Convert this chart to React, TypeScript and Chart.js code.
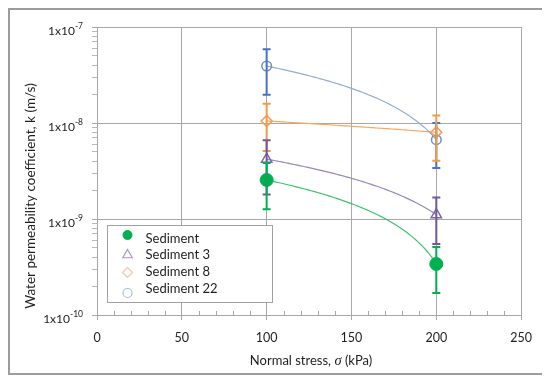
import React, { useEffect, useRef } from 'react';
import { Chart, registerables } from 'chart.js';
import { drawPoint } from 'chart.js/helpers';

Chart.register(...registerables);

// ---- data ----
const stress = [100, 200];
const seriesNames = ['Sediment', 'Sediment 3', 'Sediment 8', 'Sediment 22'];
const sediment = [2.55e-9, 3.4e-10];
const sediment3 = [4.2e-9, 1.11e-9];
const sediment8 = [1.05e-8, 8.0e-9];
const sediment22 = [3.92e-8, 6.7e-9];
const errSediment = [1.29e-9, 1.7e-10];
const errSediment3 = [2.4e-9, 5.6e-10];
const errSediment8 = [5.4e-9, 3.95e-9];
const errSediment22 = [1.95e-8, 3.3e-9];
const xTickValues = [0, 50, 100, 150, 200, 250];
const xTickLabels = ['0', '50', '100', '150', '200', '250'];
const yDecades = [-10, -9, -8, -7];
const yTickBase = '1x10';
const xTitleParts = ['Normal stress, ', 'σ', ' (kPa)'];
const yTitle = 'Water permeability coefficient, k (m/s)';

const FONT = 'Lato, "Open Sans", sans-serif';
const TEXT = '#1e1e1e';
const GRID = '#a8a8a8';
const MINOR = '#b8b8b8';

// legend row offsets (marker / text) relative to legend box top
const LEG_MARK_Y = [9.5, 29.5, 47, 67.5];
const LEG_TEXT_Y = [13.5, 29.5, 46.5, 63.5];

const isDecade = (v?: number) =>
  v != null && v > 0 && Math.abs(Math.log10(v) - Math.round(Math.log10(v))) < 1e-6;

const pts = (vals: number[]) => stress.map((x, i) => ({ x, y: vals[i] }));

const decor = {
  id: 'decor',
  beforeDatasetsDraw(chart: any) {
    const { ctx, chartArea, scales } = chart;
    const xs = scales.x, ys = scales.y;
    ctx.save();
    ctx.strokeStyle = GRID;
    ctx.lineWidth = 1;
    xs.ticks.forEach((t: any) => {
      if (!xTickValues.includes(t.value)) {
        const px = Math.round(xs.getPixelForValue(t.value)) + 0.5;
        ctx.beginPath();
        ctx.moveTo(px, chartArea.bottom);
        ctx.lineTo(px, chartArea.bottom - 4);
        ctx.stroke();
      }
    });
    chart.data.datasets.forEach((ds: any) => {
      const d = ds.data as { x: number; y: number }[];
      const n = d.length;
      const mx = d.reduce((s, p) => s + p.x, 0) / n;
      const my = d.reduce((s, p) => s + p.y, 0) / n;
      let sxy = 0, sxx = 0;
      d.forEach((p) => { sxy += (p.x - mx) * (p.y - my); sxx += (p.x - mx) ** 2; });
      const slope = sxy / sxx;
      const icpt = my - slope * mx;
      const x0 = Math.min(...d.map((p) => p.x));
      const x1 = Math.max(...d.map((p) => p.x));
      ctx.strokeStyle = ds.trendColor;
      ctx.lineWidth = 1.2;
      ctx.beginPath();
      const N = 80;
      for (let i = 0; i <= N; i++) {
        const xv = x0 + ((x1 - x0) * i) / N;
        const yv = icpt + slope * xv;
        const px = xs.getPixelForValue(xv);
        const py = ys.getPixelForValue(yv);
        if (i === 0) ctx.moveTo(px, py); else ctx.lineTo(px, py);
      }
      ctx.stroke();
    });
    ctx.restore();
  },
  afterDatasetsDraw(chart: any) {
    const { ctx, scales } = chart;
    const xs = scales.x, ys = scales.y;
    ctx.save();
    const dss = chart.data.datasets;
    for (let k = dss.length - 1; k >= 0; k--) {
      const ds = dss[k];
      ctx.strokeStyle = ds.errColor;
      ctx.lineWidth = 2;
      ds.data.forEach((p: any, i: number) => {
        const e = ds.errors[i];
        const px = xs.getPixelForValue(p.x);
        const top = ys.getPixelForValue(p.y + e);
        const bot = ys.getPixelForValue(Math.max(p.y - e, 1e-12));
        ctx.beginPath();
        ctx.moveTo(px, top); ctx.lineTo(px, bot);
        ctx.moveTo(px - 4, top); ctx.lineTo(px + 4, top);
        ctx.moveTo(px - 4, bot); ctx.lineTo(px + 4, bot);
        ctx.stroke();
      });
    }
    ctx.restore();
  },
  afterDraw(chart: any) {
    const { ctx, chartArea, scales } = chart;
    const ys = scales.y;
    ctx.save();
    yDecades.forEach((e) => {
      const py = ys.getPixelForValue(Math.pow(10, e));
      const right = chartArea.left - 14;
      const sup = String(e);
      ctx.font = `8.5px ${FONT}`;
      const ws = ctx.measureText(sup).width;
      ctx.font = `12px ${FONT}`;
      const wb = ctx.measureText(yTickBase).width;
      ctx.fillStyle = TEXT;
      ctx.textAlign = 'left';
      ctx.textBaseline = 'alphabetic';
      ctx.fillText(yTickBase, right - ws - wb, py + 7.5);
      ctx.font = `8.5px ${FONT}`;
      ctx.fillText(sup, right - ws, py + 1.5);
    });
    ctx.font = `13.5px ${FONT}`;
    ctx.textAlign = 'center';
    ctx.textBaseline = 'middle';
    ctx.translate(21, 186);
    ctx.rotate(-Math.PI / 2);
    ctx.fillText(yTitle, 0, 0);
    ctx.setTransform(1, 0, 0, 1, 0, 0);
    const fonts = [`13px ${FONT}`, `italic 14.5px "Liberation Serif", serif`, `13px ${FONT}`];
    const widths = xTitleParts.map((s, i) => { ctx.font = fonts[i]; return ctx.measureText(s).width; });
    const total = widths.reduce((a, b) => a + b, 0);
    let cx = (chartArea.left + chartArea.right) / 2 + 2 - total / 2;
    ctx.textAlign = 'left';
    ctx.textBaseline = 'alphabetic';
    xTitleParts.forEach((s, i) => {
      ctx.font = fonts[i];
      ctx.fillText(s, cx, 355);
      cx += widths[i];
    });
    const lx = chartArea.left + 10.5;
    const ly = chartArea.bottom - 89.5;
    const lw = 165, lh = 77;
    ctx.fillStyle = '#ffffff';
    ctx.fillRect(lx, ly, lw, lh);
    ctx.strokeStyle = '#a0a0a0';
    ctx.lineWidth = 1;
    ctx.strokeRect(lx, ly, lw, lh);
    chart.data.datasets.forEach((ds: any, i: number) => {
      const lg = ds.legendStyle;
      ctx.fillStyle = lg.fill;
      ctx.strokeStyle = lg.stroke;
      ctx.lineWidth = lg.width;
      drawPoint(ctx, { pointStyle: ds.pointStyle, radius: lg.radius, borderWidth: lg.width, rotation: 0 } as any, lx + 20, ly + LEG_MARK_Y[i]);
      ctx.fillStyle = TEXT;
      ctx.font = `13px ${FONT}`;
      ctx.textAlign = 'left';
      ctx.textBaseline = 'middle';
      ctx.fillText(ds.label, lx + 38, ly + LEG_TEXT_Y[i]);
    });
    ctx.restore();
  },
};

export default function App() {
  const ref = useRef<HTMLCanvasElement>(null);
  useEffect(() => {
    const canvas = ref.current!;
    const chart = new Chart(canvas, {
      type: 'scatter',
      data: {
        datasets: [
          {
            label: seriesNames[0], data: pts(sediment), pointStyle: 'circle', pointRadius: 6.5,
            backgroundColor: '#00B050', borderColor: '#00B050', pointBorderWidth: 1,
            errors: errSediment, errColor: '#00B050', trendColor: '#3cc46e',
            legendStyle: { fill: '#00B050', stroke: '#00B050', width: 1, radius: 4.5 },
          },
          {
            label: seriesNames[1], data: pts(sediment3), pointStyle: 'triangle', pointRadius: 6,
            backgroundColor: 'rgba(255,255,255,0)', borderColor: '#7f66a8', pointBorderWidth: 1.5,
            errors: errSediment3, errColor: '#7355a0', trendColor: '#9a86be',
            legendStyle: { fill: 'rgba(255,255,255,0)', stroke: '#a597c6', width: 1.2, radius: 5.5 },
          },
          {
            label: seriesNames[2], data: pts(sediment8), pointStyle: 'rectRot', pointRadius: 5.5,
            backgroundColor: 'rgba(255,255,255,0)', borderColor: '#f49a52', pointBorderWidth: 1.5,
            errors: errSediment8, errColor: '#f39a45', trendColor: '#f6a764',
            legendStyle: { fill: 'rgba(255,255,255,0)', stroke: '#f6c39c', width: 1.2, radius: 5 },
          },
          {
            label: seriesNames[3], data: pts(sediment22), pointStyle: 'circle', pointRadius: 4.8,
            backgroundColor: 'rgba(255,255,255,0)', borderColor: '#6f8fc8', pointBorderWidth: 1.5,
            errors: errSediment22, errColor: '#4472c4', trendColor: '#93acd9',
            legendStyle: { fill: 'rgba(255,255,255,0)', stroke: '#a6bde0', width: 1.2, radius: 4.5 },
          },
        ] as any,
      },
      options: {
        animation: false,
        responsive: false,
        layout: { padding: { top: 17, right: 19, left: 0, bottom: 0 } },
        plugins: { legend: { display: false }, tooltip: { enabled: false } },
        scales: {
          x: {
            type: 'linear', min: 0, max: 250,
            afterFit: (s: any) => { s.height = 58; },
            ticks: {
              stepSize: 10, autoSkip: false, maxTicksLimit: 100, maxRotation: 0, padding: 10,
              color: TEXT, font: { family: FONT, size: 12.5 },
              callback: (v: any) => { const i = xTickValues.indexOf(Number(v)); return i >= 0 ? xTickLabels[i] : ''; },
            },
            grid: {
              color: (c: any) => (c.tick && xTickValues.includes(c.tick.value) ? GRID : 'rgba(0,0,0,0)'),
              tickColor: (c: any) => (c.tick && xTickValues.includes(c.tick.value) ? GRID : 'rgba(0,0,0,0)'),
              tickLength: 5, lineWidth: 1,
            },
            border: { color: GRID, width: 1 },
          },
          y: {
            type: 'logarithmic',
            min: Math.pow(10, yDecades[0]), max: Math.pow(10, yDecades[yDecades.length - 1]),
            afterFit: (s: any) => { s.width = 87; },
            afterBuildTicks: (s: any) => {
              const t: any[] = [];
              for (let e = yDecades[0]; e < yDecades[yDecades.length - 1]; e++) {
                for (let m = 1; m <= 9; m++) t.push({ value: m * Math.pow(10, e) });
              }
              t.push({ value: Math.pow(10, yDecades[yDecades.length - 1]) });
              s.ticks = t;
            },
            ticks: { autoSkip: false, callback: () => '' },
            grid: {
              color: (c: any) => (c.tick && isDecade(c.tick.value) ? GRID : 'rgba(0,0,0,0)'),
              tickColor: (c: any) => (c.tick && isDecade(c.tick.value) ? GRID : MINOR),
              tickLength: 5, lineWidth: 1,
            },
            border: { color: GRID, width: 1 },
          },
        },
      } as any,
      plugins: [decor],
    });
    return () => chart.destroy();
  }, []);
  return (
    <div style={{ width: 536, height: 367, border: '2px solid #9c9c9c', boxSizing: 'border-box', background: '#fff' }}>
      <canvas ref={ref} width={532} height={363} style={{ display: 'block' }} />
    </div>
  );
}
